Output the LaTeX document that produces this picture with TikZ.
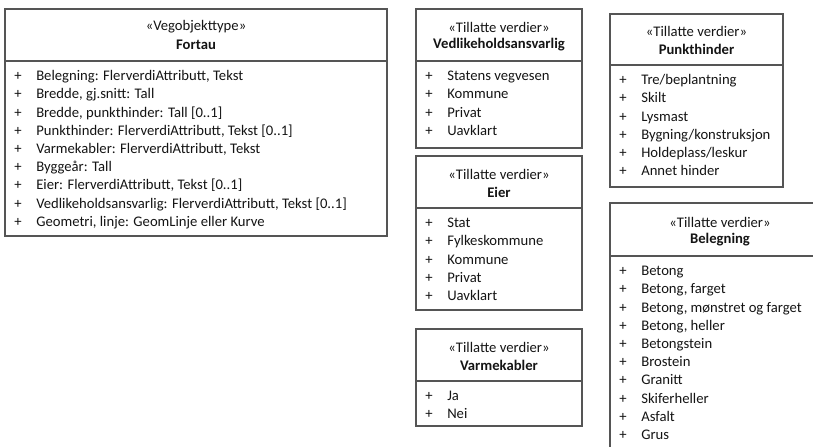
\documentclass[tikz,border=0pt]{standalone}
\usepackage{fontspec}
\setmainfont{Carlito}
\usetikzlibrary{fit}
\definecolor{lineclr}{RGB}{85,85,85}
\definecolor{txtclr}{RGB}{20,20,20}
\tikzset{
  x=0.75pt, y=-0.75pt,
  boxframe/.style={draw=lineclr, line width=0.8pt, inner sep=0pt},
  sepline/.style={draw=lineclr, line width=0.8pt},
  headtxt/.style={inner sep=0pt, text=txtclr, font=\fontsize{11}{13}\selectfont},
  titletxt/.style={inner sep=0pt, text=txtclr, font=\fontsize{11}{13}\selectfont\bfseries},
  itemtxt/.style={anchor=base west, inner sep=0pt, text=txtclr, font=\fontsize{11}{13}\selectfont},
}
% #1 name, #2 x1, #3 y1, #4 x2, #5 y2, #6 ysep, #7 stereotype, #8 title, #9 items
\newcommand{\umlclassbox}[9]{%
  \coordinate (#1nw) at (#2,#3);
  \coordinate (#1se) at (#4,#5);
  \node[boxframe, fit=(#1nw)(#1se)] (#1) {};
  \coordinate (#1sl) at (#2,#6);
  \coordinate (#1sr) at (#4,#6);
  \draw[sepline] (#1sl) -- (#1sr);
  \node[headtxt] (#1st) at ({(#2+#4)/2},{#6-34}) {«#7»};
  \node[titletxt] (#1ti) at ({(#2+#4)/2},{#6-16}) {#8};
  \foreach \it [count=\i] in {#9} {
    \node[itemtxt] (#1p\i) at ({#2+9},{#6+18.2*\i+1.5}) {+};
    \node[itemtxt] (#1i\i) at ({#2+31},{#6+18.2*\i+1.5}) {\it};
  }
}
\begin{document}
\begin{tikzpicture}
\useasboundingbox (0,0) rectangle (813,446);
\clip (0,0) rectangle (813,446);
\umlclassbox{fortau}{5}{9}{387}{236}{61}{Vegobjekttype}{Fortau}{%
  {Belegning: FlerverdiAttributt, Tekst},
  {Bredde, gj.snitt: Tall},
  {Bredde, punkthinder: Tall [0..1]},
  {Punkthinder: FlerverdiAttributt, Tekst [0..1]},
  {Varmekabler: FlerverdiAttributt, Tekst},
  {Byggeår: Tall},
  {Eier: FlerverdiAttributt, Tekst [0..1]},
  {Vedlikeholdsansvarlig: FlerverdiAttributt, Tekst [0..1]},
  {Geometri, linje: GeomLinje eller Kurve}}
\umlclassbox{vedl}{416}{9}{582}{148}{61}{Tillatte verdier}{Vedlikeholdsansvarlig}{%
  {Statens vegvesen},{Kommune},{Privat},{Uavklart}}
\umlclassbox{eier}{416}{156}{582}{310}{208}{Tillatte verdier}{Eier}{%
  {Stat},{Fylkeskommune},{Kommune},{Privat},{Uavklart}}
\umlclassbox{varme}{416}{329}{582}{426}{381}{Tillatte verdier}{Varmekabler}{%
  {Ja},{Nei}}
\umlclassbox{punkt}{610}{14}{783}{187}{65}{Tillatte verdier}{Punkthinder}{%
  {Tre/beplantning},{Skilt},{Lysmast},{Bygning/konstruksjon},{Holdeplass/leskur},{Annet hinder}}
\umlclassbox{beleg}{610}{203}{830}{470}{256}{Tillatte verdier}{Belegning}{%
  {Betong},{Betong, farget},{Betong, mønstret og farget},{Betong, heller},{Betongstein},{Brostein},{Granitt},{Skiferheller},{Asfalt},{Grus}}
\end{tikzpicture}
\end{document}
